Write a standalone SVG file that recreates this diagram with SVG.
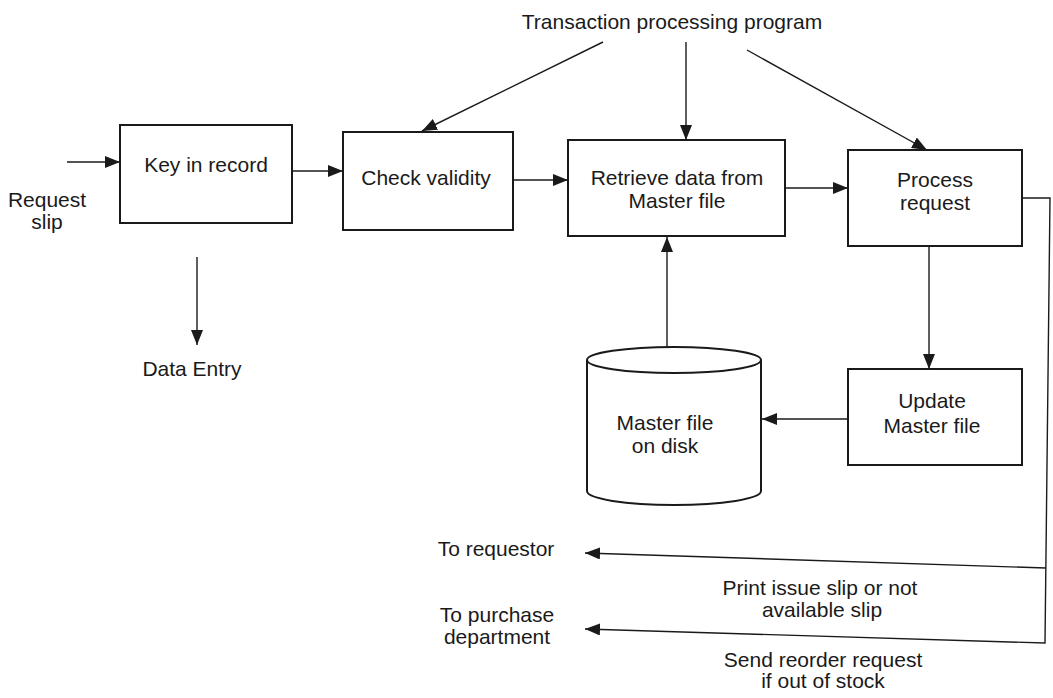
<svg xmlns="http://www.w3.org/2000/svg" width="1053" height="698" viewBox="0 0 1053 698">
<defs>
<style>
text{font-family:"Liberation Sans",Arial,sans-serif;font-size:21px;fill:#1a1a1a;text-anchor:middle}
.box{fill:none;stroke:#1a1a1a;stroke-width:2}
.ln{fill:none;stroke:#1a1a1a;stroke-width:1.4}
</style>
<marker id="ah" markerUnits="userSpaceOnUse" markerWidth="16" markerHeight="12" refX="15" refY="6" orient="auto">
<path d="M0,0 L15,6 L0,12 z" fill="#1a1a1a"/>
</marker>
</defs>
<rect width="1053" height="698" fill="#ffffff"/>

<g id="label-top"><text x="672" y="29">Transaction processing program</text></g>
<g id="label-request"><text x="47" y="207">Request</text><text x="47" y="229">slip</text></g>
<g id="label-data-entry"><text x="192" y="376">Data Entry</text></g>

<g id="key-in-record"><rect class="box" x="120" y="125" width="172" height="98"/><text x="206" y="172">Key in record</text></g>
<g id="check-validity"><rect class="box" x="343" y="132" width="170" height="98"/><text x="426" y="185">Check validity</text></g>
<g id="retrieve-data"><rect class="box" x="568" y="140" width="217" height="96"/><text x="677" y="185">Retrieve data from</text><text x="677" y="208">Master file</text></g>
<g id="process-request"><rect class="box" x="848" y="150" width="174" height="96"/><text x="935" y="187">Process</text><text x="935" y="210">request</text></g>
<g id="update-master"><rect class="box" x="848" y="369" width="174" height="96"/><text x="932" y="408">Update</text><text x="932" y="433">Master file</text></g>
<g id="master-file-disk"><path class="box" d="M587,360 L587,491 A87,14 0 0 0 761,491 L761,360"/><ellipse class="box" cx="674" cy="360" rx="87" ry="13"/><text x="665" y="430">Master file</text><text x="665" y="453">on disk</text></g>

<g id="label-requestor"><text x="496" y="556">To requestor</text></g>
<g id="label-purchase"><text x="497" y="622">To purchase</text><text x="497" y="644">department</text></g>
<g id="label-print"><text x="820" y="595">Print issue slip or not</text><text x="822" y="617">available slip</text></g>
<g id="label-reorder"><text x="823" y="667">Send reorder request</text><text x="823" y="688">if out of stock</text></g>

<g id="connectors">
<line class="ln" x1="67" y1="162" x2="120" y2="162" marker-end="url(#ah)"/>
<line class="ln" x1="293" y1="171" x2="343" y2="171" marker-end="url(#ah)"/>
<line class="ln" x1="197" y1="257" x2="197" y2="345" marker-end="url(#ah)"/>
<line class="ln" x1="513" y1="180" x2="568" y2="180" marker-end="url(#ah)"/>
<line class="ln" x1="785" y1="188" x2="848" y2="188" marker-end="url(#ah)"/>
<line class="ln" x1="603" y1="42" x2="422" y2="131" marker-end="url(#ah)"/>
<line class="ln" x1="686" y1="42" x2="686" y2="140" marker-end="url(#ah)"/>
<line class="ln" x1="747" y1="50" x2="927" y2="150" marker-end="url(#ah)"/>
<line class="ln" x1="929" y1="246" x2="929" y2="369" marker-end="url(#ah)"/>
<line class="ln" x1="848" y1="419" x2="762" y2="419" marker-end="url(#ah)"/>
<line class="ln" x1="667" y1="347" x2="667" y2="237" marker-end="url(#ah)"/>
<path class="ln" d="M1022,198 L1050,198 L1045,643 L585,629" marker-end="url(#ah)"/>
<line class="ln" x1="1046" y1="568" x2="585" y2="553" marker-end="url(#ah)"/>
</g>
</svg>
